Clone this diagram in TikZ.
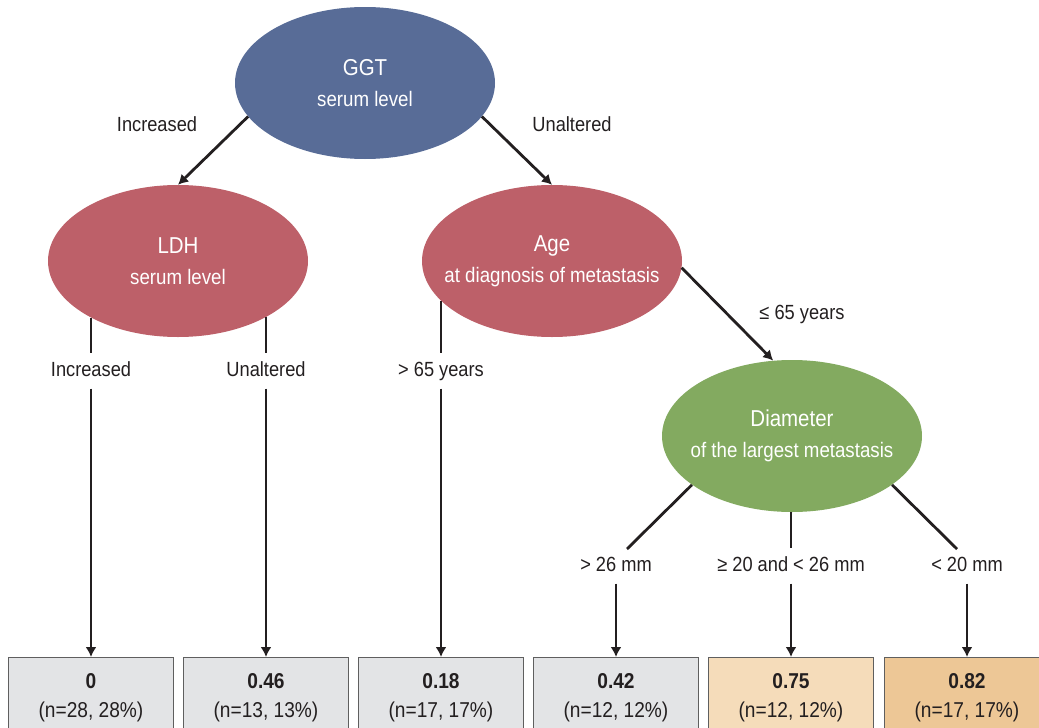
\documentclass[tikz,border=0pt]{standalone}
\usepackage{fontspec}
\setmainfont[FakeStretch=0.89]{Liberation Sans}
\usetikzlibrary{arrows.meta,shapes.geometric,calc}
\definecolor{cblue}{RGB}{88,108,151}
\definecolor{cred}{RGB}{189,96,105}
\definecolor{cgreen}{RGB}{131,170,96}
\definecolor{cgray}{RGB}{227,228,230}
\definecolor{cpeach}{RGB}{245,220,186}
\definecolor{corange}{RGB}{237,199,150}
\definecolor{labc}{RGB}{35,31,32}
\definecolor{boxc}{RGB}{95,95,95}
\newcommand\elltitle[1]{\makebox[0pt][c]{\fontsize{23}{31}\selectfont #1}}
\newcommand\ellsub[1]{\makebox[0pt][c]{#1}}
\begin{document}
\begin{tikzpicture}[x=1pt,y=-1pt,
  ell/.style={ellipse, minimum width=260pt, minimum height=152pt, inner sep=0pt,
    text=white, align=center, font=\fontsize{21}{31}\selectfont},
  lab/.style={font=\fontsize{20.5}{24}\selectfont, text=labc, text height=15pt,
    text depth=4pt, inner xsep=2pt, inner ysep=0pt, minimum height=35pt},
  conn/.style={line width=2.8pt, draw=labc},
  arr/.style={conn, -{Latex[length=10pt,width=11pt]}},
  resbox/.style={rectangle, draw=boxc, line width=1.2pt, minimum width=165pt,
    minimum height=80pt, anchor=north, align=center,
    font=\fontsize{21.5}{29}\selectfont, text=labc},
]
\useasboundingbox (0,0) rectangle (1039,728);
\clip (0,0) rectangle (1039,728);

% ellipses
\node[ell, fill=cblue] (ggt) at (365,83) {\elltitle{GGT}\\\ellsub{serum level}};
\node[ell, fill=cred] (ldh) at (178,261) {\elltitle{LDH}\\\ellsub{serum level}};
\node[ell, fill=cred] (age) at (552,261) {\elltitle{Age}\\\ellsub{at diagnosis of metastasis}};
\node[ell, fill=cgreen] (diam) at (792,436) {\elltitle{Diameter}\\\ellsub{of the largest metastasis}};

% result boxes
\node[resbox, fill=cgray] (b1) at (91,657) {\textbf{0}\\(n=28, 28\%)};
\node[resbox, fill=cgray] (b2) at (266,657) {\textbf{0.46}\\(n=13, 13\%)};
\node[resbox, fill=cgray] (b3) at (441,657) {\textbf{0.18}\\(n=17, 17\%)};
\node[resbox, fill=cgray] (b4) at (616,657) {\textbf{0.42}\\(n=12, 12\%)};
\node[resbox, fill=cpeach] (b5) at (791,657) {\textbf{0.75}\\(n=12, 12\%)};
\node[resbox, fill=corange] (b6) at (967,657) {\textbf{0.82}\\(n=17, 17\%)};

% labels
\node[lab] (lInc) at (157,126) {Increased};
\node[lab] (lUna) at (572,126) {Unaltered};
\node[lab] (lle) at (802,314) {≤ 65 years};
\node[lab] (l1) at (91,371) {Increased};
\node[lab] (l2) at (266,371) {Unaltered};
\node[lab] (l3) at (441,371) {> 65 years};
\node[lab] (l4) at (616,566) {> 26 mm};
\node[lab] (l5) at (791,566) {≥ 20 and < 26 mm};
\node[lab] (l6) at (967,566) {< 20 mm};

\coordinate (c4) at (627,549);
\coordinate (c6) at (957,549);

% connectors
\draw[arr] (ggt.196) -- (ldh.north);
\draw[arr] (ggt.344) -- (age.north);
\draw[conn] (l1 |- ldh.213) -- (l1);
\draw[arr] (l1) -- (b1);
\draw[conn] (l2 |- ldh.328) -- (l2);
\draw[arr] (l2) -- (b2);
\draw[conn] (l3 |- age.200) -- (l3);
\draw[arr] (l3) -- (b3);
\draw[arr] (age.357) -- (diam.104);
\draw[conn] (diam.206) -- (c4);
\draw[arr] (l4) -- (b4);
\draw[conn] (l5 |- diam.south) -- (l5);
\draw[arr] (l5) -- (b5);
\draw[conn] (diam.334) -- (c6);
\draw[arr] (l6) -- (b6);
\end{tikzpicture}
\end{document}
